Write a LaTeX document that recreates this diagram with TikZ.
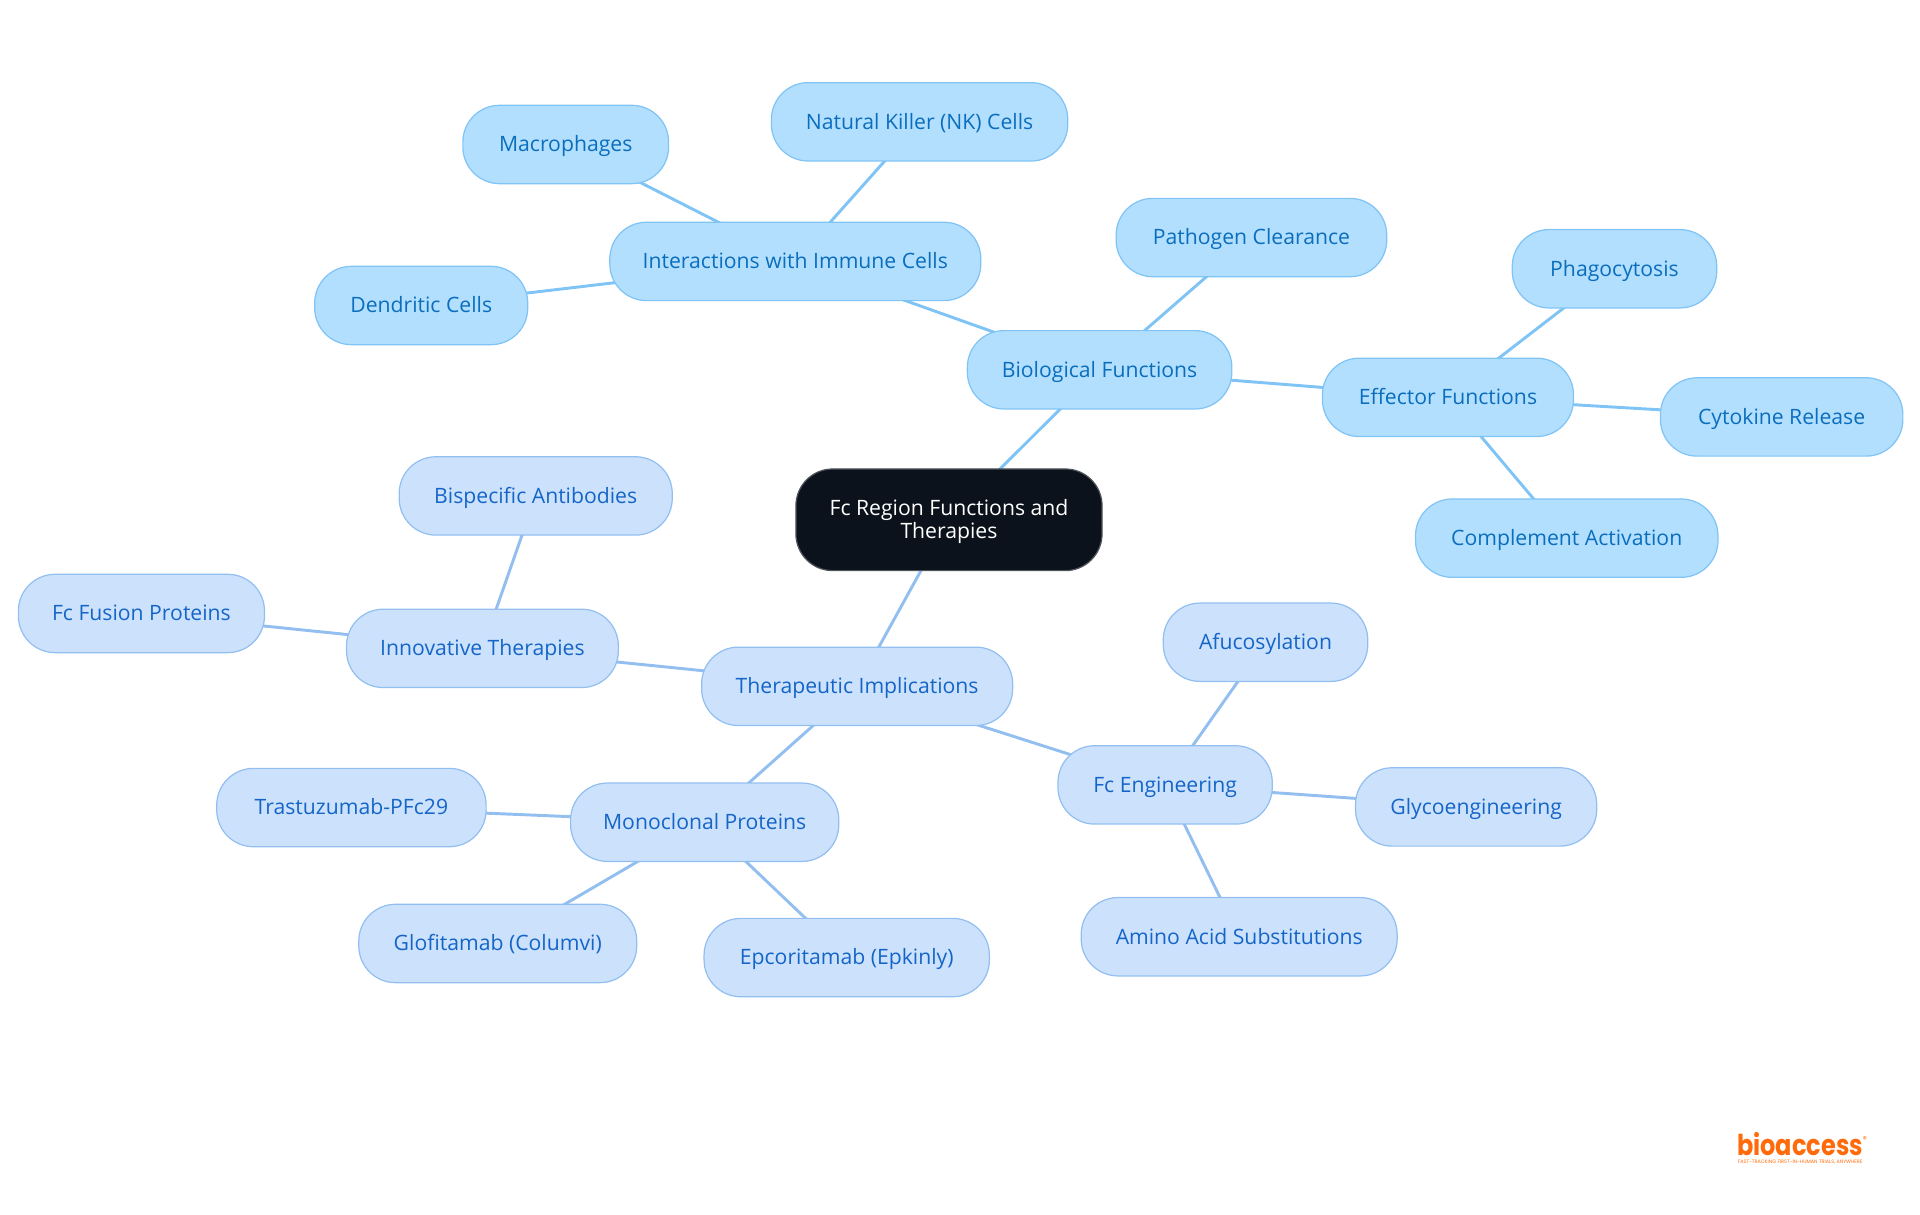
\documentclass[tikz,border=0pt]{standalone}
\usepackage{fontspec}
\setmainfont{Open Sans}
\newfontfamily\logofont{Poppins}
\usetikzlibrary{positioning,backgrounds}
\definecolor{upperfill}{HTML}{B3DFFF}
\definecolor{upperline}{HTML}{7FC4F5}
\definecolor{uppertext}{HTML}{0A6EBD}
\definecolor{lowerfill}{HTML}{CCE2FC}
\definecolor{lowerline}{HTML}{93BFF0}
\definecolor{lowertext}{HTML}{1565C8}
\definecolor{rootfill}{HTML}{0B121B}
\definecolor{rootline}{HTML}{50555C}
\definecolor{logoorange}{HTML}{FF6B0A}
\tikzset{
	mapbox/.style={draw,rounded corners=30pt,inner sep=0pt,line width=1pt,minimum height=64pt},
	upperbox/.style={mapbox,fill=upperfill,draw=upperline,text=uppertext,font=\fontsize{17.3}{21}\selectfont,text height=15pt,text depth=3pt},
	lowerbox/.style={mapbox,fill=lowerfill,draw=lowerline,text=lowertext,font=\fontsize{17.3}{21}\selectfont,text height=15pt,text depth=3pt},
	rootbox/.style={mapbox,fill=rootfill,draw=rootline,text=white,align=center,font=\fontsize{17.3}{19}\selectfont},
	upperlink/.style={draw=upperline,line width=2.4pt},
	lowerlink/.style={draw=lowerline,line width=2.4pt}
}

\begin{document}
\begin{tikzpicture}[x=1pt,y=-1pt]
		\useasboundingbox (0,0) rectangle (1568,992.2);
		\node[rootbox,minimum width=250pt,minimum height=83pt] (root) at (775,424.5) {\rule{0pt}{16pt}Fc Region Functions and\\Therapies};
		% upper branch
		\node[upperbox,minimum width=216pt] (bio) at (898,302) {Biological Functions};
		\node[upperbox,minimum width=303pt] (immune) at (649.5,213.5) {Interactions with Immune Cells};
		\node[upperbox,minimum width=168pt] (macro) at (462,118) {Macrophages};
		\node[upperbox,minimum width=242pt] (killer) at (751,99.5) {Natural Killer (NK) Cells};
		\node[upperbox,minimum width=174pt] (dendritic) at (344,249.5) {Dendritic Cells};
		\node[upperbox,minimum width=221pt] (pathogen) at (1022,194) {Pathogen Clearance};
		\node[upperbox,minimum width=205pt] (effector) at (1182.5,324.5) {Effector Functions};
		\node[upperbox,minimum width=167pt] (phago) at (1318.5,219.5) {Phagocytosis};
		\node[upperbox,minimum width=198pt] (cytokine) at (1455,340.5) {Cytokine Release};
		\node[upperbox,minimum width=247pt] (complement) at (1279.5,439.5) {Complement Activation};
		% lower branch
		\node[lowerbox,minimum width=254pt] (thera) at (700,560.5) {Therapeutic Implications};
		\node[lowerbox,minimum width=222pt] (innov) at (394,529.5) {Innovative Therapies};
		\node[lowerbox,minimum width=223pt] (bispec) at (437.5,405) {Bispecific Antibodies};
		\node[lowerbox,minimum width=201pt] (fusion) at (115.5,501) {Fc Fusion Proteins};
		\node[lowerbox,minimum width=219pt] (mono) at (575.5,671.5) {Monoclonal Proteins};
		\node[lowerbox,minimum width=220pt] (trastu) at (287,659.5) {Trastuzumab-PFc29};
		\node[lowerbox,minimum width=227pt] (glofit) at (406.5,770.5) {Glofitamab (Columvi)};
		\node[lowerbox,minimum width=233pt] (epco) at (691.5,782) {Epcoritamab (Epkinly)};
		\node[lowerbox,minimum width=175pt] (eng) at (951.5,641) {Fc Engineering};
		\node[lowerbox,minimum width=167pt] (afuco) at (1033.5,524.5) {Afucosylation};
		\node[lowerbox,minimum width=197pt] (glyco) at (1205.5,659) {Glycoengineering};
		\node[lowerbox,minimum width=258pt] (amino) at (1012,765) {Amino Acid Substitutions};
		\begin{scope}[on background layer]
		\path[upperlink]
		(root.center) edge (bio.center)
		(bio.center) edge (immune.center)
		(immune.center) edge (macro.center)
		(immune.center) edge (killer.center)
		(immune.center) edge (dendritic.center)
		(bio.center) edge (pathogen.center)
		(bio.center) edge (effector.center)
		(effector.center) edge (phago.center)
		(effector.center) edge (cytokine.center)
		(effector.center) edge (complement.center);
		\path[lowerlink]
		(root.center) edge (thera.center)
		(thera.center) edge (innov.center)
		(innov.center) edge (bispec.center)
		(innov.center) edge (fusion.center)
		(thera.center) edge (mono.center)
		(mono.center) edge (trastu.center)
		(mono.center) edge (glofit.center)
		(mono.center) edge (epco.center)
		(thera.center) edge (eng.center)
		(eng.center) edge (afuco.center)
		(eng.center) edge (glyco.center)
		(eng.center) edge (amino.center);
		\end{scope}
		% logo
		\node[inner sep=0pt,anchor=base west,text=logoorange,font=\logofont\bfseries\fontsize{23.5}{24}\selectfont] (logo) at (1418.5,943.5) {\scalebox{.835}[1]{bioaccess}};
		\node[inner sep=0pt,text=logoorange,font=\logofont\fontsize{7}{7}\selectfont] (logoreg) at (1523,930.5) {\textregistered};
		\node[inner sep=0pt,anchor=base west,text=logoorange,font=\logofont\fontsize{4.03}{4}\selectfont] (tagline) at (1419,950.3) {FAST-TRACKING FIRST-IN-HUMAN TRIALS, ANYWHERE};
	\end{tikzpicture}
\end{document}
